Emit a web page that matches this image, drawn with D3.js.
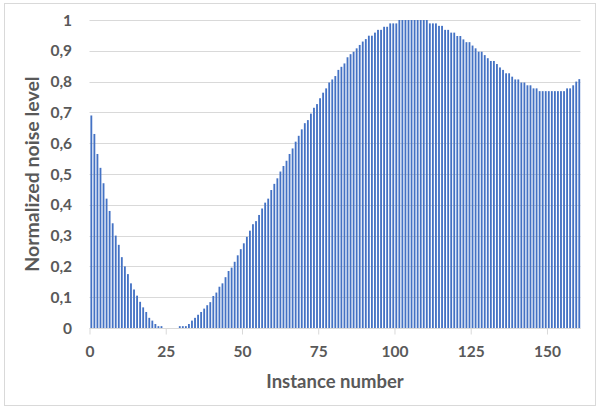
<!DOCTYPE html>
<html>
<head>
<meta charset="utf-8">
<script src="https://cdn.jsdelivr.net/npm/d3@7"></script>
<style>
  body { margin: 0; background: #fff; }
  svg text { font-family: Lato, "Open Sans", sans-serif; font-weight: bold; fill: #595959; }
</style>
</head>
<body>
<div id="chart"></div>
<script>
// Normalized noise level per instance (instance number = index)
var noise = [
  0.69, 0.63, 0.565, 0.52, 0.47, 0.42, 0.38, 0.34, 0.30, 0.27,
  0.23, 0.20, 0.175, 0.145, 0.125, 0.105, 0.085, 0.067, 0.052, 0.033,
  0.024, 0.013, 0.006, 0.006, 0, 0, 0, 0, 0, 0.006,
  0.006, 0.006, 0.013, 0.024, 0.033, 0.043, 0.052, 0.063, 0.074, 0.084,
  0.104, 0.115, 0.134, 0.145, 0.165, 0.185, 0.196, 0.215, 0.236, 0.256,
  0.275, 0.296, 0.316, 0.337, 0.347, 0.367, 0.388, 0.407, 0.42, 0.448,
  0.468, 0.486, 0.508, 0.526, 0.543, 0.565, 0.583, 0.605, 0.624, 0.645,
  0.665, 0.675, 0.696, 0.715, 0.727, 0.746, 0.764, 0.778, 0.797, 0.807,
  0.818, 0.838, 0.848, 0.859, 0.879, 0.889, 0.897, 0.908, 0.919, 0.93,
  0.938, 0.949, 0.949, 0.959, 0.968, 0.968, 0.978, 0.978, 0.989, 0.989,
  0.989, 1, 1, 1, 1, 1, 1, 1, 1, 1,
  1, 0.989, 0.989, 0.989, 0.981, 0.981, 0.968, 0.968, 0.959, 0.959,
  0.948, 0.948, 0.937, 0.928, 0.928, 0.917, 0.908, 0.897, 0.897, 0.886,
  0.876, 0.867, 0.867, 0.857, 0.846, 0.838, 0.827, 0.827, 0.816, 0.807,
  0.807, 0.797, 0.797, 0.788, 0.788, 0.778, 0.778, 0.769, 0.769, 0.769,
  0.769, 0.769, 0.769, 0.769, 0.769, 0.769, 0.778, 0.778, 0.788, 0.80,
  0.808
];
var xTicks = [0, 25, 50, 75, 100, 125, 150];
var yTicks = [0, 0.1, 0.2, 0.3, 0.4, 0.5, 0.6, 0.7, 0.8, 0.9, 1];
var yLabels = ["0", "0,1", "0,2", "0,3", "0,4", "0,5", "0,6", "0,7", "0,8", "0,9", "1"];

var width = 600, height = 410;
var plot = {left: 89.5, right: 580.5, top: 20, bottom: 328};

var svg = d3.select("#chart").append("svg")
    .attr("width", width)
    .attr("height", height);

// outer frame
svg.append("rect")
    .attr("x", 4.5).attr("y", 3.5)
    .attr("width", 591).attr("height", 402)
    .attr("fill", "#fff")
    .attr("stroke", "#d9d9d9");

// scales
var x = d3.scaleLinear()
    .domain([0, noise.length])
    .range([plot.left, plot.right]);
var y = d3.scaleLinear()
    .domain([0, 1])
    .range([plot.bottom, plot.top]);
var step = x(1) - x(0);

// horizontal gridlines
svg.append("g")
    .selectAll("line")
    .data(yTicks)
  .enter().append("line")
    .attr("x1", plot.left).attr("x2", plot.right)
    .attr("y1", function(d) { return Math.round(y(d)) + 0.5; })
    .attr("y2", function(d) { return Math.round(y(d)) + 0.5; })
    .attr("stroke", "#d9d9d9")
    .attr("stroke-width", 1);

// y labels
svg.append("g")
    .selectAll("text")
    .data(yTicks)
  .enter().append("text")
    .attr("x", 72)
    .attr("y", function(d) { return y(d) + 5.5; })
    .attr("text-anchor", "end")
    .style("font-size", "15.5px")
    .text(function(d, i) { return yLabels[i]; });

// bars
svg.append("g")
    .selectAll("rect")
    .data(noise)
  .enter().append("rect")
    .attr("x", function(d, i) { return x(i) + step * 0.3; })
    .attr("width", step * 0.6)
    .attr("y", function(d) { return y(d); })
    .attr("height", function(d) { return y(0) - y(d); })
    .attr("fill", "#4472c4");

// x axis line and ticks
var xAxis = svg.append("g")
    .attr("transform", "translate(0," + (plot.bottom + 0.5) + ")")
    .call(d3.axisBottom(x).tickValues(xTicks).tickSize(6).tickPadding(11).tickFormat(d3.format("d")));
xAxis.select(".domain").attr("stroke", "#d9d9d9").attr("d", "M" + plot.left + ",0H" + plot.right);
xAxis.selectAll(".tick line").attr("stroke", "#d9d9d9");
xAxis.selectAll(".tick text")
    .style("font-size", "15.5px")
    .style("font-family", "Lato, sans-serif")
    .attr("fill", "#595959");

// axis titles
svg.append("text")
    .attr("x", 335)
    .attr("y", 388)
    .attr("text-anchor", "middle")
    .style("font-size", "18.5px")
    .text("Instance number");

svg.append("text")
    .attr("transform", "translate(39,174) rotate(-90)")
    .attr("text-anchor", "middle")
    .style("font-size", "19.5px")
    .text("Normalized noise level");
</script>
</body>
</html>
